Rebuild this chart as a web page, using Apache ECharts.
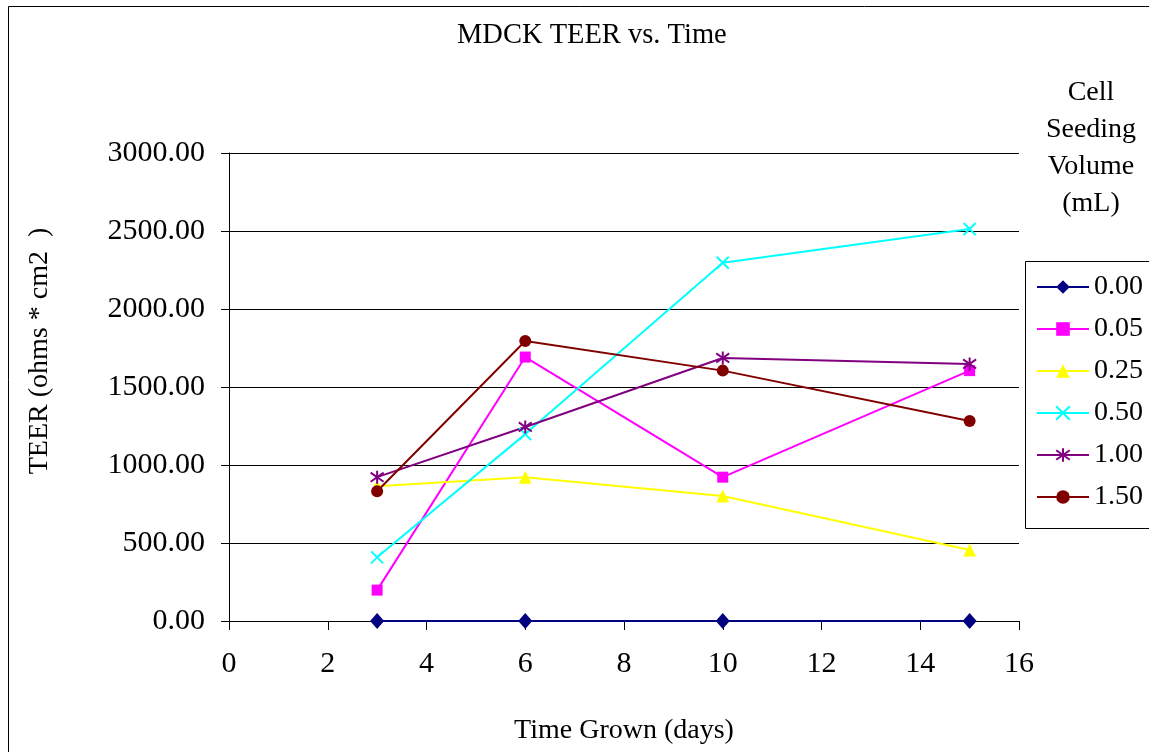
<!DOCTYPE html>
<html>
<head>
<meta charset="utf-8">
<script src="https://cdn.jsdelivr.net/npm/echarts@6/dist/echarts.min.js"></script>
<style>
  html, body { margin: 0; padding: 0; background: #fff; }
  #main { width: 1149px; height: 752px; }
</style>
</head>
<body>
<div id="main"></div>
<script>
// time points (days) and TEER readings per seeding volume
var days = [3, 6, 10, 15];
var volumeNames = ['0.00', '0.05', '0.25', '0.50', '1.00', '1.50'];
var teer000 = [0, 0, 0, 0];
var teer005 = [198, 1692, 922, 1605];
var teer025 = [864, 922, 801, 455];
var teer050 = [408, 1198, 2296, 2513];
var teer100 = [922, 1244, 1686, 1648];
var teer150 = [832, 1795, 1605, 1282];

var font = 'Liberation Serif';
var myChart = echarts.init(document.getElementById('main'));

function pairs(vals) {
    return days.map(function (d, i) { return [d, vals[i]]; });
}

function mkSeries(name, vals, color, symbol, size, stroked) {
    return {
        type: 'line',
        name: name,
        data: pairs(vals),
        symbol: symbol,
        symbolSize: size,
        lineStyle: { color: color, width: 2 },
        itemStyle: stroked
            ? { color: color, borderColor: color, borderWidth: 2 }
            : { color: color },
        emphasis: { disabled: true },
        z: 3
    };
}

var option = {
    animation: false,
    title: {
        text: 'MDCK TEER vs. Time',
        left: 452,
        top: 16,
        textStyle: { fontFamily: font, fontSize: 28.5, fontWeight: 'normal', color: '#000' }
    },
    legend: {
        left: 1025,
        top: 261,
        orient: 'vertical',
        padding: [12, 10, 12, 11],
        itemWidth: 52,
        itemHeight: 17,
        itemGap: 14,
        borderWidth: 0,
        data: volumeNames,
        textStyle: { fontFamily: font, fontSize: 28, color: '#000', lineHeight: 28 }
    },
    grid: { left: 229, top: 153, right: 130, bottom: 131 },
    xAxis: {
        type: 'value',
        min: 0,
        max: 16,
        interval: 2,
        name: 'Time Grown (days)',
        nameLocation: 'middle',
        nameGap: 96,
        nameTextStyle: { fontFamily: font, fontSize: 28, color: '#000' },
        axisLine: { show: true, onZero: false, lineStyle: { color: '#000', width: 1 } },
        axisTick: { show: true, length: 9, lineStyle: { color: '#000' } },
        axisLabel: { fontFamily: font, fontSize: 30, color: '#000', margin: 28 },
        splitLine: { show: false }
    },
    yAxis: {
        type: 'value',
        min: 0,
        max: 3000,
        interval: 500,
        axisLine: { show: true, lineStyle: { color: '#000', width: 1 } },
        axisTick: { show: true, length: 8, lineStyle: { color: '#000' } },
        axisLabel: {
            fontFamily: font, fontSize: 30, color: '#000', margin: 24,
            formatter: function (v) { return v.toFixed(2); }
        },
        splitLine: { show: true, lineStyle: { color: '#000', width: 1 } }
    },
    graphic: [
        {
            type: 'rect',
            shape: { x: 8.5, y: 6.5, width: 1300, height: 900 },
            style: { fill: 'none', stroke: '#000', lineWidth: 1 },
            silent: true
        },
        // legend frame, runs off the right edge like the original
        {
            type: 'rect',
            shape: { x: 1025.5, y: 261.5, width: 300, height: 267 },
            style: { fill: 'none', stroke: '#000', lineWidth: 1 },
            silent: true
        },
        {
            type: 'text',
            x: 40,
            y: 351,
            rotation: Math.PI / 2,
            style: {
                text: 'TEER (ohms * cm2  )',
                font: '28px "Liberation Serif"',
                fill: '#000',
                align: 'center',
                verticalAlign: 'middle'
            }
        },
        {
            type: 'text',
            x: 1091,
            y: 74,
            style: {
                text: 'Cell\nSeeding\nVolume\n(mL)',
                font: '28px "Liberation Serif"',
                lineHeight: 37,
                fill: '#000',
                align: 'center',
                verticalAlign: 'top'
            }
        }
    ],
    series: [
        mkSeries('0.00', teer000, '#000080', 'diamond', [14, 16], false),
        mkSeries('0.05', teer005, '#FF00FF', 'rect', 11, false),
        mkSeries('0.25', teer025, '#FFFF00', 'triangle', 13, false),
        mkSeries('0.50', teer050, '#00FFFF', 'path://M0,0L10,10M10,0L0,10', 12, true),
        mkSeries('1.00', teer100, '#800080', 'path://M5,0L5,10M0,1.5L10,8.5M10,1.5L0,8.5', 13, true),
        mkSeries('1.50', teer150, '#800000', 'circle', 12, false)
    ]
};
myChart.setOption(option);
</script>
</body>
</html>
